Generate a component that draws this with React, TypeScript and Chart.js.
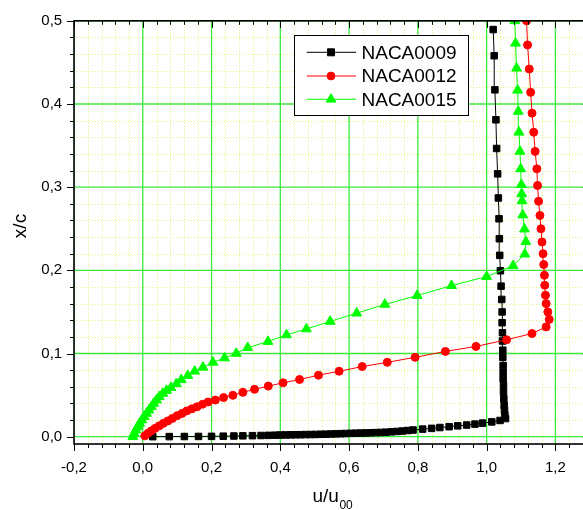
import React, { useEffect, useRef } from 'react';
import { Chart, registerables } from 'chart.js';

Chart.register(...registerables);

// ---------------- data ----------------
const seriesNames = ['NACA0009', 'NACA0012', 'NACA0015'];

const naca0009U = [
  0.029, 0.077, 0.121, 0.162, 0.200, 0.234, 0.265, 0.291, 0.319, 0.344,
  0.365, 0.384, 0.400, 0.416, 0.430, 0.445, 0.459, 0.474, 0.489, 0.503,
  0.518, 0.532, 0.547, 0.561, 0.576, 0.590, 0.605, 0.620, 0.634, 0.649,
  0.663, 0.678, 0.692, 0.707, 0.723, 0.739, 0.755, 0.771, 0.786, 0.814,
  0.840, 0.864, 0.891, 0.916, 0.942, 0.966, 0.988, 1.015, 1.039, 1.055,
  1.053, 1.052, 1.051, 1.050, 1.049, 1.049, 1.048, 1.048, 1.048, 1.047,
  1.047, 1.046, 1.046, 1.045, 1.045, 1.044, 1.042, 1.040, 1.038, 1.037,
  1.036, 1.034, 1.032, 1.029, 1.027, 1.024, 1.022, 1.019,
];
const naca0009Y = [
  0.0000, 0.0001, 0.0002, 0.0003, 0.0004, 0.0006, 0.0008, 0.0010, 0.0012, 0.0014,
  0.0016, 0.0018, 0.0020, 0.0021, 0.0022, 0.0023, 0.0024, 0.0025, 0.0026, 0.0027,
  0.0029, 0.0030, 0.0032, 0.0034, 0.0036, 0.0038, 0.0040, 0.0042, 0.0043, 0.0045,
  0.0047, 0.0049, 0.0051, 0.0054, 0.0058, 0.0063, 0.0068, 0.0074, 0.0080, 0.0091,
  0.0100, 0.0110, 0.0120, 0.0130, 0.0140, 0.0151, 0.0163, 0.0178, 0.0195, 0.0218,
  0.0258, 0.0318, 0.0377, 0.0457, 0.0536, 0.0616, 0.0696, 0.0775, 0.0855, 0.0954,
  0.104, 0.115, 0.125, 0.137, 0.150, 0.165, 0.181, 0.1995, 0.218, 0.238,
  0.262, 0.287, 0.316, 0.3465, 0.381, 0.417, 0.458, 0.4895,
];

const naca0012U = [
  0.006, 0.015, 0.025, 0.036, 0.048, 0.060, 0.073, 0.086, 0.100, 0.114,
  0.128, 0.143, 0.158, 0.174, 0.190, 0.211, 0.235, 0.262, 0.291, 0.325,
  0.365, 0.408, 0.456, 0.511, 0.571, 0.638, 0.711, 0.792, 0.880, 0.969,
  1.058, 1.132, 1.173, 1.182, 1.178, 1.173, 1.171, 1.169, 1.168, 1.166,
  1.164, 1.161, 1.158, 1.155, 1.151, 1.148, 1.146, 1.141, 1.137, 1.132,
  1.128, 1.124, 1.119, 1.116,
];
const naca0012Y = [
  0.001, 0.004, 0.007, 0.010, 0.013, 0.016, 0.019, 0.022, 0.0253, 0.028,
  0.031, 0.0335, 0.036, 0.039, 0.0417, 0.044, 0.047, 0.0497, 0.0533, 0.0569,
  0.0608, 0.0648, 0.0688, 0.0739, 0.0787, 0.0843, 0.0894, 0.0954, 0.1025, 0.1085,
  0.1165, 0.124, 0.132, 0.141, 0.150, 0.160, 0.170, 0.182, 0.194, 0.207,
  0.220, 0.234, 0.250, 0.266, 0.283, 0.302, 0.322, 0.343, 0.366, 0.389,
  0.414, 0.442, 0.471, 0.500,
];

const naca0015U = [
  -0.029, -0.025, -0.020, -0.015, -0.009, -0.003, 0.004, 0.011, 0.018, 0.025,
  0.032, 0.040, 0.048, 0.058, 0.069, 0.082, 0.0975, 0.112, 0.131, 0.151,
  0.175, 0.204, 0.238, 0.272, 0.305, 0.364, 0.418, 0.476, 0.545, 0.622,
  0.704, 0.798, 0.898, 1.000, 1.077, 1.111, 1.114, 1.110, 1.105, 1.103,
  1.102, 1.101, 1.099, 1.097, 1.094, 1.092, 1.090, 1.087, 1.084, 1.082,
];
const naca0015Y = [
  0.000, 0.004, 0.008, 0.012, 0.016, 0.020, 0.024, 0.028, 0.032, 0.036,
  0.040, 0.044, 0.048, 0.052, 0.0555, 0.059, 0.0636, 0.0684, 0.0735, 0.0787,
  0.0834, 0.0894, 0.0946, 0.1001, 0.107, 0.1144, 0.1224, 0.1295, 0.1386, 0.1485,
  0.159, 0.1697, 0.1816, 0.1925, 0.2055, 0.2195, 0.2344, 0.2496, 0.2665, 0.2835,
  0.292, 0.303, 0.322, 0.343, 0.366, 0.391, 0.4165, 0.443, 0.473, 0.500,
];

const xTickValues = [-0.2, 0.0, 0.2, 0.4, 0.6, 0.8, 1.0, 1.2];
const yTickValues = [0.0, 0.1, 0.2, 0.3, 0.4, 0.5];
const xMinorStep = 0.04;
const yMinorStep = 0.02;
const xMajorStep = 0.2;
const yMajorStep = 0.1;
const xMin = -0.2;
const xMax = 1.3;
const yMin = -0.0088;
const yMax = 0.5;

const xTitle = 'u/u';
const xTitleSub = '00';
const yTitle = 'x/c';

// ---------------- styling ----------------
const FONT = '"Liberation Sans", Arial, sans-serif';
const COLORS = ['#000000', '#ff0000', '#00ff00'];
const STYLES = ['rect', 'circle', 'triangle'];
const RADII = [4.6, 4.0, 5.7];

const zip = (u: number[], y: number[]) => u.map((v, i) => ({ x: v, y: y[i] }));
const fmt = (v: number) => Number(v).toFixed(1).replace('.', ',');
const isMajor = (v: number, step: number) => Math.abs(v / step - Math.round(v / step)) < 1e-6;

function drawMarker(ctx: CanvasRenderingContext2D, style: string, cx: number, cy: number, color: string) {
  ctx.fillStyle = color;
  ctx.strokeStyle = color;
  ctx.lineWidth = 1;
  ctx.setLineDash([]);
  ctx.beginPath();
  if (style === 'rect') {
    ctx.rect(cx - 3.5, cy - 3.5, 7, 7);
  } else if (style === 'circle') {
    ctx.arc(cx, cy, 3.9, 0, Math.PI * 2);
  } else {
    const r = 5.6;
    ctx.moveTo(cx, cy - r);
    ctx.lineTo(cx + r * Math.sin((2 * Math.PI) / 3), cy + r * 0.5);
    ctx.lineTo(cx - r * Math.sin((2 * Math.PI) / 3), cy + r * 0.5);
    ctx.closePath();
  }
  ctx.fill();
  ctx.stroke();
}

const gridPlugin = {
  id: 'originGrid',
  beforeDatasetsDraw(chart: any) {
    const { ctx, chartArea: a, scales } = chart;
    const x = scales.x;
    const y = scales.y;
    ctx.save();
    ctx.beginPath();
    ctx.rect(a.left, a.top, a.right - a.left, a.bottom - a.top);
    ctx.clip();
    // minor dotted yellow
    ctx.strokeStyle = 'rgb(236,236,120)';
    ctx.lineWidth = 1;
    ctx.setLineDash([1, 2]);
    for (let k = 0; ; k++) {
      const v = Math.round((xMin + k * xMinorStep) * 1000) / 1000;
      if (v > xMax + 1e-9) break;
      if (isMajor(v, xMajorStep)) continue;
      const px = Math.round(x.getPixelForValue(v)) + 0.5;
      ctx.beginPath();
      ctx.moveTo(px, a.top);
      ctx.lineTo(px, a.bottom);
      ctx.stroke();
    }
    for (let k = 0; ; k++) {
      const v = Math.round(k * yMinorStep * 1000) / 1000;
      if (v > yMax + 1e-9) break;
      if (isMajor(v, yMajorStep)) continue;
      const py = Math.round(y.getPixelForValue(v)) + 0.5;
      ctx.beginPath();
      ctx.moveTo(a.left, py);
      ctx.lineTo(a.right, py);
      ctx.stroke();
    }
    // major green
    ctx.setLineDash([]);
    ctx.strokeStyle = 'rgb(60,232,60)';
    ctx.lineWidth = 1.3;
    xTickValues.forEach((v) => {
      const px = x.getPixelForValue(v);
      ctx.beginPath();
      ctx.moveTo(px, a.top);
      ctx.lineTo(px, a.bottom);
      ctx.stroke();
    });
    yTickValues.forEach((v) => {
      const py = y.getPixelForValue(v);
      ctx.beginPath();
      ctx.moveTo(a.left, py);
      ctx.lineTo(a.right, py);
      ctx.stroke();
    });
    ctx.restore();
  },
  afterDatasetsDraw(chart: any) {
    const { ctx, chartArea: a, scales } = chart;
    const x = scales.x;
    const y = scales.y;
    ctx.save();
    ctx.setLineDash([]);
    // frame
    ctx.strokeStyle = '#000';
    ctx.lineWidth = 1.6;
    ctx.strokeRect(a.left, a.top, a.right - a.left, a.bottom - a.top);
    // ticks
    ctx.lineWidth = 1;
    for (let k = 0; ; k++) {
      const v = Math.round((xMin + k * xMinorStep) * 1000) / 1000;
      if (v > xMax + 1e-9) break;
      const len = isMajor(v, xMajorStep) ? 7 : 4;
      const px = Math.round(x.getPixelForValue(v)) + 0.5;
      ctx.beginPath();
      ctx.moveTo(px, a.bottom);
      ctx.lineTo(px, a.bottom + len);
      ctx.moveTo(px, a.top);
      ctx.lineTo(px, a.top + len);
      ctx.stroke();
    }
    for (let k = 0; ; k++) {
      const v = Math.round(k * yMinorStep * 1000) / 1000;
      if (v > yMax + 1e-9) break;
      const len = isMajor(v, yMajorStep) ? 7 : 4;
      const py = Math.round(y.getPixelForValue(v)) + 0.5;
      ctx.beginPath();
      ctx.moveTo(a.left - len, py);
      ctx.lineTo(a.left, py);
      ctx.moveTo(a.right - len, py);
      ctx.lineTo(a.right, py);
      ctx.stroke();
    }

    // legend
    const bx = 294.5, by = 35.5, bw = 174, bh = 80;
    ctx.fillStyle = '#fff';
    ctx.fillRect(bx, by, bw, bh);
    ctx.strokeStyle = '#000';
    ctx.lineWidth = 1;
    ctx.strokeRect(bx, by, bw, bh);
    const rows = [52.3, 76, 99.3];
    seriesNames.forEach((name, i) => {
      const ry = rows[i];
      ctx.strokeStyle = COLORS[i];
      ctx.lineWidth = 1;
      ctx.beginPath();
      ctx.moveTo(306.7, ry);
      ctx.lineTo(356, ry);
      ctx.stroke();
      drawMarker(ctx, STYLES[i], 331, ry, COLORS[i]);
      ctx.fillStyle = '#000';
      ctx.font = `19px ${FONT}`;
      ctx.textAlign = 'left';
      ctx.textBaseline = 'middle';
      ctx.fillText(name, 361.5, ry + 1);
    });

    // axis titles
    ctx.fillStyle = '#000';
    ctx.textBaseline = 'alphabetic';
    ctx.textAlign = 'left';
    ctx.font = `19px ${FONT}`;
    ctx.fillText(xTitle, 312.5, 502);
    const w = ctx.measureText(xTitle).width;
    ctx.font = `12px ${FONT}`;
    ctx.fillText(xTitleSub, 312.5 + w + 0.5, 508.5);

    ctx.translate(25.5, 226);
    ctx.rotate(-Math.PI / 2);
    ctx.font = `19px ${FONT}`;
    ctx.textAlign = 'center';
    ctx.fillText(yTitle, 0, 0);
    ctx.restore();
  },
};

export default function App() {
  const ref = useRef<HTMLCanvasElement>(null);

  useEffect(() => {
    if (!ref.current) return;
    const seriesU = [naca0009U, naca0012U, naca0015U];
    const seriesY = [naca0009Y, naca0012Y, naca0015Y];
    const datasets = seriesNames.map((name, i) => ({
      label: name,
      data: zip(seriesU[i], seriesY[i]),
      showLine: true,
      borderColor: COLORS[i],
      backgroundColor: COLORS[i],
      borderWidth: 1,
      pointStyle: STYLES[i],
      pointRadius: RADII[i],
      pointBorderWidth: 1,
      pointBorderColor: COLORS[i],
      pointBackgroundColor: COLORS[i],
      tension: 0,
      clip: 0,
      order: 3 - i,
    }));

    const chart = new Chart(ref.current, {
      type: 'scatter',
      data: { datasets },
      options: {
        responsive: false,
        maintainAspectRatio: false,
        animation: false,
        devicePixelRatio: 1,
        events: [],
        layout: { padding: { left: 0, top: 17.3, right: 10.2, bottom: 0 }, autoPadding: false },
        plugins: {
          legend: { display: false },
          tooltip: { enabled: false },
          title: { display: false },
        },
        scales: {
          x: {
            type: 'linear',
            min: xMin,
            max: xMax,
            grid: { display: false, drawTicks: false },
            border: { display: false },
            ticks: {
              autoSkip: false,
              maxRotation: 0,
              includeBounds: false,
              padding: 14.5,
              color: '#000',
              font: { family: FONT, size: 15 },
              callback: (v: any) => fmt(v),
            },
            afterBuildTicks: (s: any) => {
              s.ticks = xTickValues.map((v) => ({ value: v }));
            },
            afterFit: (s: any) => {
              s.height = 66;
            },
          },
          y: {
            type: 'linear',
            min: yMin,
            max: yMax,
            grid: { display: false, drawTicks: false },
            border: { display: false },
            ticks: {
              autoSkip: false,
              includeBounds: false,
              padding: 11.8,
              color: '#000',
              font: { family: FONT, size: 15 },
              callback: (v: any) => fmt(v),
            },
            afterBuildTicks: (s: any) => {
              s.ticks = yTickValues.map((v) => ({ value: v }));
            },
            afterFit: (s: any) => {
              s.width = 74;
            },
          },
        },
      },
      plugins: [gridPlugin],
    } as any);
    return () => chart.destroy();
  }, []);

  return (
    <div
      style={{
        position: 'fixed',
        left: 0,
        top: 0,
        width: 583,
        height: 510,
        overflow: 'hidden',
        background: '#fff',
      }}
    >
      <canvas ref={ref} width={600} height={510} style={{ display: 'block', width: 600, height: 510 }} />
    </div>
  );
}
